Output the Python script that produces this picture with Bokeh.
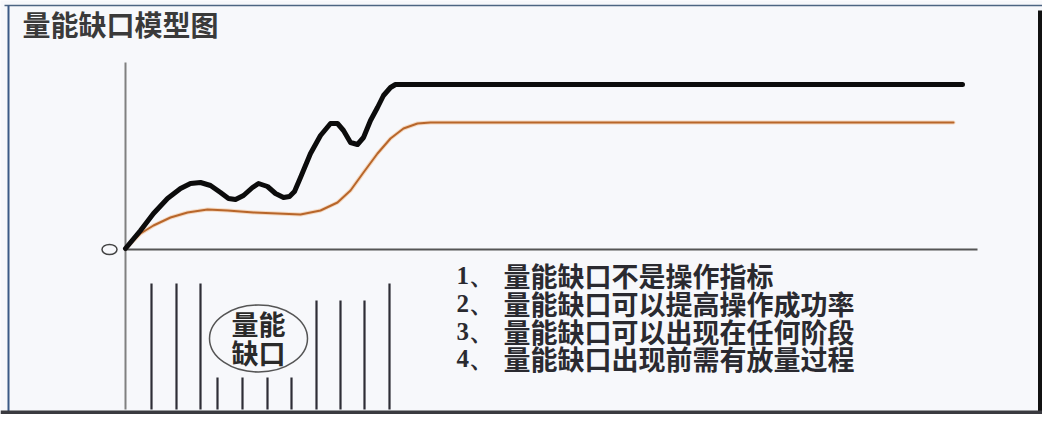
from bokeh.plotting import figure
from bokeh.models import Range1d
from bokeh.core.properties import value
from bokeh.embed import file_html
from bokeh.resources import INLINE

# ---- data (diagram coordinates; y grows downward) ----
title_text = "量能缺口模型图"

# price-like black curve
black_x = [125, 140, 153, 167, 180, 190, 200, 210, 220, 228, 235, 243, 252, 258,
           267, 275, 283, 289, 294, 300, 310, 320, 330, 337, 343, 350, 357, 363,
           370, 377, 383, 390, 395, 962]
black_y = [248, 230, 213, 198, 188, 183, 182, 185, 192, 198, 199, 195, 187, 183,
           186, 193, 197, 196, 191, 177, 153, 135, 123, 123, 130, 142, 144, 137,
           120, 107, 95, 87, 84, 84]

# smooth orange curve
orange_x = [125, 140, 153, 170, 187, 207, 227, 253, 277, 300, 320, 337, 350, 363,
            377, 390, 403, 417, 430, 460, 953]
orange_y = [248, 233, 225, 217, 212, 209, 210, 212, 213, 214, 210, 202, 190, 172,
            153, 138, 128, 123, 122, 122, 122]

# volume bars below the axis
vol_x = [151, 176, 200, 217, 242, 267, 291, 316, 340, 364, 389]
vol_top = [283, 283, 283, 377, 377, 377, 377, 300, 300, 300, 283]
vol_bottom = 409

note_nums = ["1、", "2、", "3、", "4、"]
note_texts = [
    "量能缺口不是操作指标",
    "量能缺口可以提高操作成功率",
    "量能缺口可以出现在任何阶段",
    "量能缺口出现前需有放量过程",
]
notes_y = [275, 303, 331, 358]

bubble_lines = ["量能", "缺口"]
bubble_y = [323, 352]

# ---- figure ----
W, H = 1042, 414
p = figure(width=W, height=H, output_backend="svg", toolbar_location=None,
           x_range=Range1d(0, W), y_range=Range1d(H, 0),
           min_border=0, tools="")
p.axis.visible = False
p.grid.visible = False
p.outline_line_color = None
p.background_fill_color = "#f7f8fb"
p.border_fill_color = "#f7f8fb"

CJK = value("Noto Sans CJK SC")

# frame
p.line([4, 1042], [5, 5], line_color="#4d6582", line_width=1.5)
p.line([8, 8], [5, 414], line_color="#3c5a86", line_width=2)
p.line([1039.5, 1039.5], [10, 414], line_color="#111111", line_width=4)
p.line([0, 1042], [412, 412], line_color="#3a3a3f", line_width=4)

# title
p.text(x=[22], y=[23], text=[title_text], text_font=CJK, text_font_style="bold",
       text_font_size="28px", text_color="#3a3a3a", text_baseline="middle",
       text_align="left")

# axes
p.line([125, 125], [62, vol_bottom], line_color="#808080", line_width=2)
p.line([125, 977], [249, 249], line_color="#555555", line_width=2)
p.ellipse(x=[109], y=[249], width=15, height=10, fill_color=None,
          line_color="#444444", line_width=1.5)

# curves
p.line(orange_x, orange_y, line_color="#f0b27a", line_width=4, line_alpha=0.45,
       line_join="round", line_cap="round")
p.line(orange_x, orange_y, line_color="#b8662a", line_width=2,
       line_join="round", line_cap="round")
p.line(black_x, black_y, line_color="#0c0c0c", line_width=5,
       line_join="round", line_cap="round")

# volume bars
p.segment(x0=vol_x, y0=vol_top, x1=vol_x, y1=[vol_bottom] * len(vol_x),
          line_color="#2e2e36", line_width=2.2)

# bubble
p.ellipse(x=[258], y=[338], width=98, height=67, fill_color=None,
          line_color="#555555", line_width=1.5)
p.text(x=[258] * 2, y=bubble_y, text=bubble_lines, text_font=CJK,
       text_font_style="bold", text_font_size="27px", text_color="#2a2a2a",
       text_align="center", text_baseline="middle")

# notes
p.text(x=[456] * len(note_nums), y=notes_y, text=note_nums,
       text_font=value("Liberation Serif"), text_font_style="bold",
       text_font_size="25px", text_color="#2a2a30",
       text_align="left", text_baseline="middle")
p.text(x=[503] * len(note_texts), y=notes_y, text=note_texts, text_font=CJK,
       text_font_style="bold", text_font_size="27px", text_color="#2a2a30",
       text_align="left", text_baseline="middle")

open("out.html", "w").write(file_html(p, INLINE))
